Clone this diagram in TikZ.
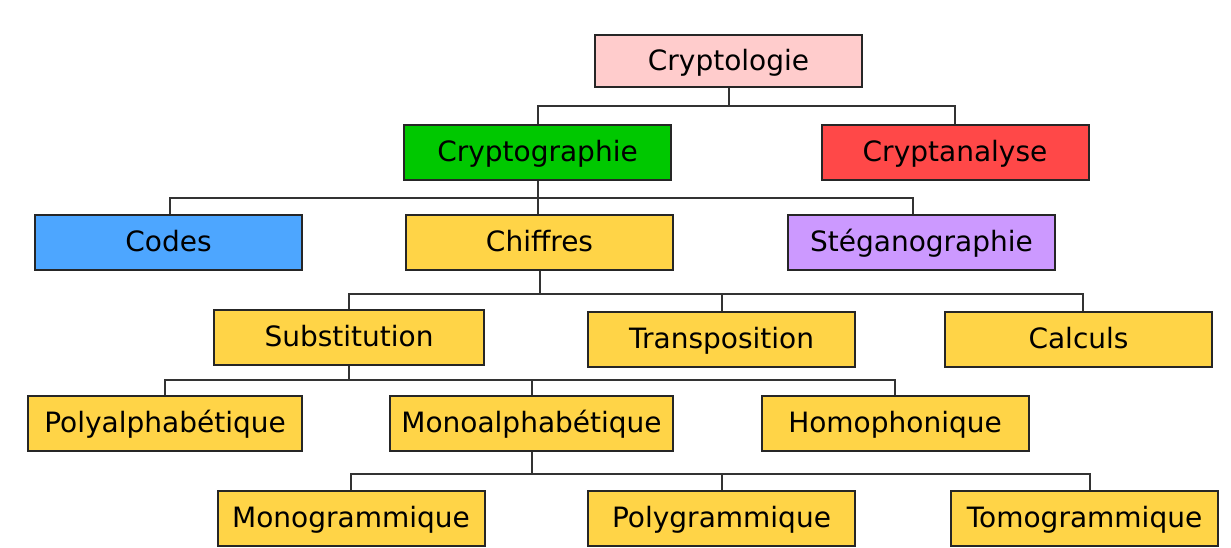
\documentclass[tikz,border=0pt]{standalone}
\usepackage{fontspec}
\setmainfont{DejaVu Sans}
\definecolor{cpink}{HTML}{FFCCCC}
\definecolor{cgreen}{HTML}{00C800}
\definecolor{cred}{HTML}{FF4848}
\definecolor{cblue}{HTML}{4DA6FF}
\definecolor{cyellow}{HTML}{FFD447}
\definecolor{cpurple}{HTML}{CC99FF}
\begin{document}
\begin{tikzpicture}[x=1pt,y=-1pt,
  box/.style={draw=black!85, line width=2pt, minimum width=267pt, minimum height=55pt,
    inner sep=0pt, font=\fontsize{28}{33}\selectfont, text height=20pt, text depth=2pt},
  link/.style={draw=black!80, line width=2pt}]
\useasboundingbox (0,0) rectangle (1231,547);
\node[box, fill=cpink, minimum height=52pt] (tlg) at (728.5,61) {Cryptologie};
\node[box, fill=cgreen] (tgr) at (537.5,152.5) {Cryptographie};
\node[box, fill=cred] (tan) at (955,152.5) {Cryptanalyse};
\node[box, fill=cblue] (cod) at (168.5,242.5) {Codes};
\node[box, fill=cyellow] (chi) at (539.5,242.5) {Chiffres};
\node[box, fill=cpurple] (ste) at (921.5,242.5) {Stéganographie};
\node[box, fill=cyellow, minimum width=270pt] (sub) at (349,337.5) {Substitution};
\node[box, fill=cyellow] (tra) at (721.5,339.5) {Transposition};
\node[box, fill=cyellow] (cal) at (1078.5,339.5) {Calculs};
\node[box, fill=cyellow, minimum width=274pt] (pol) at (165,423) {Polyalphabétique};
\node[box, fill=cyellow, minimum width=283pt] (mon) at (531.5,423) {Monoalphabétique};
\node[box, fill=cyellow] (hom) at (895,423) {Homophonique};
\node[box, fill=cyellow] (mng) at (351,518.5) {Monogrammique};
\node[box, fill=cyellow] (plg) at (721.5,518.5) {Polygrammique};
\node[box, fill=cyellow] (tmg) at (1084.5,518.5) {Tomogrammique};
\coordinate (l1) at (0,106);
\coordinate (l2) at (0,198);
\coordinate (l3) at (0,294);
\coordinate (l4) at (0,380);
\coordinate (l5) at (0,474);
% level 1
\draw[link] (tlg.south) -- (tlg.south |- l1);
\draw[link] (tgr.north) |- (tan.north |- l1) -- (tan.north);
% level 2
\draw[link] (tgr.south) -- (tgr.south |- l2);
\draw[link] ([xshift=1.5pt]cod.north) |- ([xshift=-9pt]ste.north |- l2) -- ([xshift=-9pt]ste.north);
\draw[link] (chi.north -| tgr.south) -- (tgr.south |- l2);
% level 3
\draw[link] (chi.south) -- (chi.south |- l3);
\draw[link] (sub.north) |- ([xshift=4.5pt]cal.north |- l3) -- ([xshift=4.5pt]cal.north);
\draw[link] (tra.north) -- (tra.north |- l3);
% level 4
\draw[link] (sub.south) -- (sub.south |- l4);
\draw[link] (pol.north) |- (hom.north |- l4) -- (hom.north);
\draw[link] (mon.north) -- (mon.north |- l4);
% level 5
\draw[link] (mon.south) -- (mon.south |- l5);
\draw[link] (mng.north) |- ([xshift=5.5pt]tmg.north |- l5) -- ([xshift=5.5pt]tmg.north);
\draw[link] (plg.north) -- (plg.north |- l5);
\end{tikzpicture}
\end{document}
